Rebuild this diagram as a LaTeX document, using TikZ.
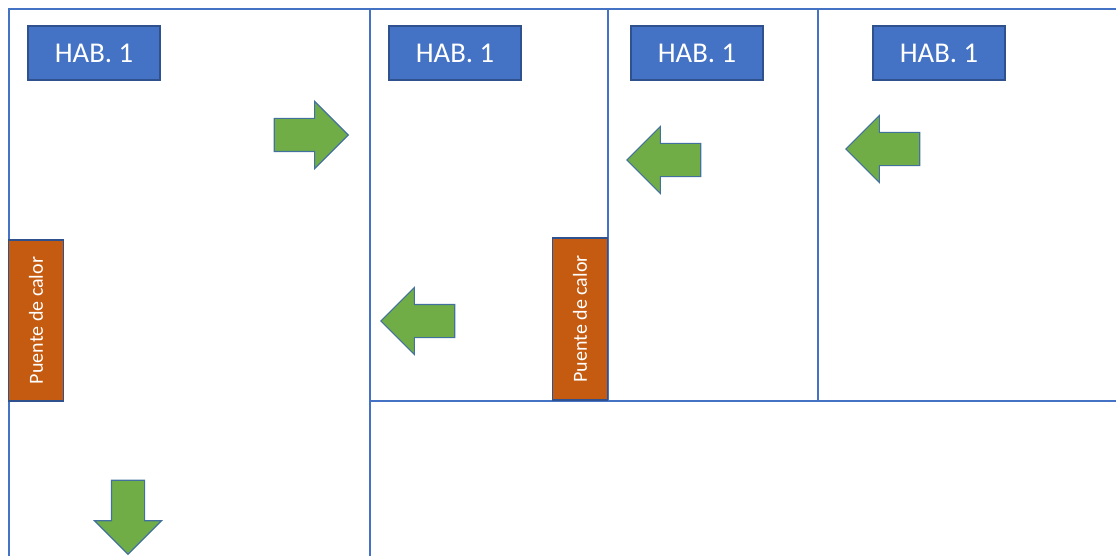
\documentclass[tikz,border=0pt]{standalone}
\usepackage{fontspec}
\setmainfont{Carlito}
\usepackage{tikz}
\usetikzlibrary{shapes,arrows}
\definecolor{pared}{HTML}{4472C4}
\definecolor{habazul}{HTML}{4472C4}
\definecolor{borde}{HTML}{2F528F}
\definecolor{naranja}{HTML}{C55A11}
\definecolor{verde}{HTML}{70AD47}
\definecolor{bordeverde}{HTML}{41719C}
\tikzset{
  hab/.style={rectangle, draw=borde, fill=habazul, line width=0.8pt, text=white,
    minimum width=99pt, minimum height=40.5pt, font=\fontsize{21.5}{24}\selectfont},
  puente/.style={rectangle, draw=borde, fill=naranja, line width=1pt, text=white,
    rotate=90, minimum height=41pt, font=\fontsize{15}{17}\selectfont},
  flecha/.style={single arrow, draw=bordeverde, fill=verde, line width=0.8pt,
    inner xsep=0pt, inner ysep=12pt, minimum width=0pt, minimum height=55.5pt,
    single arrow head extend=12.75pt, single arrow tip angle=90, anchor=tip},
  pared/.style={draw=pared, line width=1pt}
}
\newcommand{\habnode}[2] {\node at (#1) (#2) [hab] {HAB. 1};}
\newcommand{\puentenode}[3] {\node at (#1) (#2) [puente, minimum width=#3] {Puente de calor};}
\newcommand{\flecha}[3] {\node at (#1) (#2) [flecha, rotate=#3] {};}

\begin{document}
\begin{tikzpicture}[x=0.75pt, y=-0.75pt]
\useasboundingbox (0,0) rectangle (1116,556);
% paredes
\draw [pared] (9,556) -- (9,9) -- (1116,9);
\draw [pared] (370,9) -- (370,556);
\draw [pared] (608,9) -- (608,401);
\draw [pared] (818,9) -- (818,401);
\draw [pared] (370,401) -- (1116,401);

\habnode {94,53} {hab1};
\habnode {455,53} {hab2};
\habnode {697,53} {hab3};
\habnode {939,53} {hab4};

\puentenode {36,320.5} {puenteA} {120.75pt};
\puentenode {580,319} {puenteB} {121.5pt};

\flecha {349,135} {derecha} {0};
\flecha {380,321} {izq2} {180};
\flecha {626,160} {izq3} {180};
\flecha {845,149} {izq4} {180};
\flecha {128,555} {abajo} {-90};
\end{tikzpicture}
\end{document}
